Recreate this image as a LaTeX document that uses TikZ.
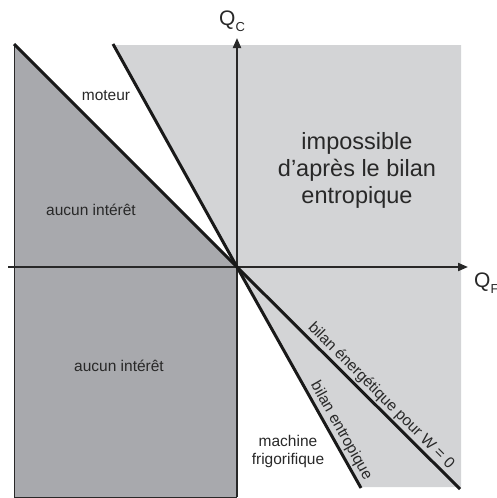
\documentclass[tikz,border=0pt]{standalone}
\usepackage{fontspec}
\setmainfont{Liberation Sans}
\usetikzlibrary{arrows.meta}
\definecolor{darkreg}{RGB}{168,169,173}
\definecolor{lightreg}{RGB}{211,212,214}
\definecolor{txt}{RGB}{40,40,40}
\begin{document}
\begin{tikzpicture}[x=1pt,y=-1pt,
  lab/.style={font=\fontsize{15.5}{18}\selectfont, text=txt, align=center, inner sep=0pt},
  big/.style={font=\fontsize{23.5}{27}\selectfont, text=txt, align=center, inner sep=0pt},
  axlab/.style={font=\fontsize{21}{24}\selectfont, text=txt, inner sep=0pt},
  bound/.style={line width=3pt, black!90},
  regborder/.style={line width=1pt, txt},
  axisline/.style={line width=2pt, txt, -{Triangle[length=10pt,width=8pt]}},
]
\useasboundingbox (0,0) rectangle (496,498);
\coordinate (O) at (237,267);
\coordinate (EnTop) at (14,44);
\coordinate (EnBot) at (460,489);
\coordinate (SeTop) at (113,44);
\coordinate (SeBot) at (361,488);
\coordinate (XL) at (8,267);
\coordinate (XR) at (468,267);
\coordinate (YB) at (237,497);
\coordinate (YT) at (237,38);
% regions
\fill[lightreg] (113,45) -- (461,45) -- (461,487) -- (360,487) -- (O) -- cycle;
\fill[darkreg] (EnTop) -- (O) -- (YB) -- (14,497) -- cycle;
\draw[regborder] (EnTop) -- (14,497) -- (YB);
% axes
\draw[axisline] (XL) -- (XR);
\draw[axisline] (YB) -- (YT);
% boundary lines
\draw[bound] (EnTop) -- (O) -- (EnBot);
\draw[bound] (SeTop) -- (O) -- (SeBot);
% axis labels
\node[axlab, anchor=base west] (qc) at (219,25) {Q\raisebox{-0.3em}{\fontsize{13}{13}\selectfont C}};
\node[axlab, anchor=base west] (qf) at (474,287) {Q\raisebox{-0.3em}{\fontsize{13}{13}\selectfont F}};
% region labels
\node[lab] (mot) at (106,96) {moteur};
\node[lab] (auc1) at (91,210) {aucun intérêt};
\node[lab] (auc2) at (119,366) {aucun intérêt};
\node[big] (imp) at (357,170) {impossible\\d’après le bilan\\entropique};
\node[lab] (frig) at (288,451) {machine\\frigorifique};
\node[lab, rotate=-45] (ener) at (381,396) {bilan énergétique pour W = 0};
\node[lab, rotate=-60.7] (entr) at (341,431) {bilan entropique};
\end{tikzpicture}
\end{document}
